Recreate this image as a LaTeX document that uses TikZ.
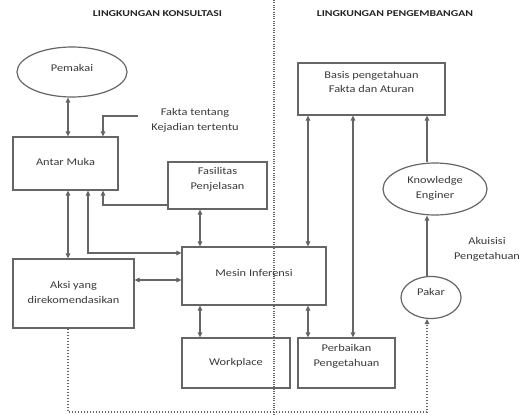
\documentclass[tikz,border=0pt]{standalone}
\usepackage{fontspec}
\setmainfont[FakeStretch=1.2]{Carlito}
\newfontfamily\titlefont[FakeStretch=1.3]{Carlito}
\usetikzlibrary{arrows.meta,calc,shapes.geometric}
\definecolor{ln}{HTML}{666666}
\definecolor{tx}{HTML}{3A3A3A}
\definecolor{tt}{HTML}{262626}
\begin{document}
\begin{tikzpicture}[x=1pt,y=-1pt,
  box/.style={draw=ln,line width=1.2pt,rectangle,inner sep=0pt},
  oval/.style={draw=ln,line width=1.2pt,ellipse,inner sep=0pt},
  txt/.style={text=tx,font=\fontsize{10.3}{14.8}\selectfont,align=center,inner sep=0pt},
  ttl/.style={text=tt,font=\titlefont\bfseries\fontsize{9}{10}\selectfont,inner sep=0pt},
  con/.style={draw=ln,line width=1.2pt},
  arr/.style={con,-{Triangle[length=5pt,width=4.5pt]}},
  dbl/.style={con,{Triangle[length=5pt,width=4.5pt]}-{Triangle[length=5pt,width=4.5pt]}},
  dsh/.style={con,dash pattern=on 1.6pt off 1.4pt,-{Triangle[length=5pt,width=4.5pt]}},
  dot/.style={draw=ln,line width=1.1pt,dash pattern=on 1pt off 1.3pt}]
\useasboundingbox (0,0) rectangle (520,415);
\fill[white] (0,0) rectangle (520,415);

% titles
\node[ttl] (t1) at (157.5,14) {LINGKUNGAN KONSULTASI};
\node[ttl] (t2) at (395,14) {LINGKUNGAN PENGEMBANGAN};

% divider
\coordinate (dtop) at (274,0);
\coordinate (dbot) at (274,415);
\draw[dot] (dtop) -- (dbot);

% shapes
\node[oval,minimum width=110pt,minimum height=50pt] (pem) at (72,72) {};
\node[box,minimum width=105pt,minimum height=53pt] (antar) at (65.5,163.5) {};
\node[box,minimum width=99pt,minimum height=47pt] (fas) at (217.5,185.5) {};
\node[box,minimum width=121pt,minimum height=69pt] (aksi) at (73.5,293.5) {};
\node[box,minimum width=144pt,minimum height=58pt] (mesin) at (254,276) {};
\node[box,minimum width=108pt,minimum height=50pt] (work) at (236,363) {};
\node[box,minimum width=97pt,minimum height=50pt] (perb) at (346.5,363) {};
\node[box,minimum width=147pt,minimum height=52pt] (basis) at (371.5,89) {};
\node[oval,minimum width=104pt,minimum height=52pt] (ke) at (435,189) {};
\node[oval,minimum width=60pt,minimum height=42pt] (pakar) at (431,297.5) {};

% texts
\node[txt] (pemt) at (72,68) {Pemakai};
\node[txt] (antart) at (65.5,162) {Antar Muka};
\node[txt] (fakt) at (195,120.5) {Fakta tentang\\Kejadian tertentu};
\node[txt] (fast) at (217.5,179.5) {Fasilitas\\Penjelasan};
\node[txt] (mesint) at (254,273) {Mesin Inferensi};
\node[txt] (aksit) at (73.5,292.5) {Aksi yang\\direkomendasikan};
\node[txt] (workt) at (236,363) {Workplace};
\node[txt] (perbt) at (346.5,356) {Perbaikan\\Pengetahuan};
\node[txt] (basist) at (371.5,82) {Basis pengetahuan\\Fakta dan Aturan};
\node[txt] (ket) at (435,188.5) {Knowledge\\Enginer};
\node[txt] (pakart) at (431,292) {Pakar};
\node[txt] (akt) at (487,249.5) {Akuisisi\\Pengetahuan};

% connectors
\draw[dbl] ([xshift=-4pt]pem.south) -- ([xshift=2.5pt]antar.north);
\coordinate (fk) at (138,116);
\draw[arr] (fk) -| ([xshift=37.5pt]antar.north);
\draw[arr] ([yshift=-19.5pt]fas.west) -| ([xshift=37.5pt]antar.south);
\draw[dbl] ([xshift=2.5pt]antar.south) -- ([xshift=-5.5pt]aksi.north);
\draw[dbl] ([xshift=22.5pt]antar.south) |- ([yshift=23pt]mesin.west);
\draw[dbl] ([xshift=-17.5pt]fas.south) -- ([xshift=-54pt]mesin.north);
\coordinate (mw) at ([yshift=-4pt]mesin.west);
\draw[dbl] (aksi.east |- mw) -- (mw);
\draw[dbl] ([xshift=-54pt]mesin.south) -- ([xshift=-36pt]work.north);
\draw[dbl] ([xshift=54pt]mesin.south) -- ([xshift=-38.5pt]perb.north);
\draw[dbl] ([xshift=-63.5pt]basis.south) -- ([xshift=54pt]mesin.north);
\draw[dbl] ([xshift=-18.5pt]basis.south) -- ([xshift=6.5pt]perb.north);
\draw[arr] ([xshift=-8pt]ke.north) -- ([xshift=55.5pt]basis.south);
\draw[arr] ([xshift=-4pt]pakar.north) -- ([xshift=-8pt]ke.south);
\coordinate (dl) at (68,412);
\coordinate (dr) at (427,412);
\draw[dsh] ([xshift=-5.5pt]aksi.south) -- (dl) -- (dr) -- ([xshift=-4pt]pakar.south);
\end{tikzpicture}
\end{document}
